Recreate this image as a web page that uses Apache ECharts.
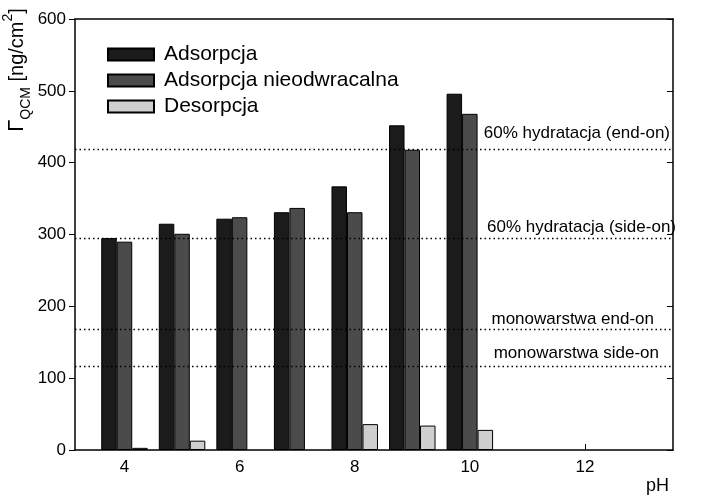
<!DOCTYPE html>
<html>
<head>
<meta charset="utf-8">
<script src="https://cdn.jsdelivr.net/npm/echarts@6/dist/echarts.min.js"></script>
<style>
  html, body { margin: 0; padding: 0; background: #fff; }
  #main { width: 708px; height: 501px; }
</style>
</head>
<body>
<div id="main"></div>
<script>
// pH of each measurement
const phValues = [4, 5, 6, 7, 8, 9, 10];
// Gamma QCM [ng/cm2]
const adsorpcja = [295, 315, 322, 331, 367, 452, 496];
const nieodwracalna = [290, 301, 324, 337, 331, 418, 468];
const desorpcja = [3, 13, null, null, 36, 34, 28];
// reference levels (dotted lines)
const refLevels = [419, 295, 168, 117];
const refLabels = ['60% hydratacja (end-on)', '60% hydratacja (side-on)', 'monowarstwa end-on', 'monowarstwa side-on'];
const xTickValues = [4, 6, 8, 10, 12];
const seriesNames = ['Adsorpcja', 'Adsorpcja nieodwracalna', 'Desorpcja'];

var chartDom = document.getElementById('main');
var myChart = echarts.init(chartDom);
var font = "'Liberation Sans', Arial, sans-serif";

function pairs(vals) {
    return phValues.map((p, i) => [p, vals[i] == null ? '-' : vals[i]]);
}

// label offsets [horizontal, vertical] for each dotted line
const labelDist = [[3, 7], [-3, 2], [19, 2], [14, 4]];

var option = {
    animation: false,
    textStyle: { fontFamily: font },
    grid: { left: 75, right: 35, top: 19, bottom: 51, show: false },
    legend: {
        data: seriesNames,
        orient: 'vertical',
        left: 102,
        top: 39,
        itemWidth: 46,
        itemHeight: 12,
        itemGap: 5,
        icon: 'rect',
        textStyle: { fontSize: 21, color: '#000', fontFamily: font, padding: [0, 0, 0, 5] }
    },
    graphic: [{
        type: 'text',
        x: 17,
        y: 70,
        rotation: Math.PI / 2,
        style: {
            text: '{g|\u0393}{s|QCM}{n| [ng/cm}{p|2}{n|]}',
            align: 'center',
            verticalAlign: 'middle',
            fill: '#000',
            font: '20px ' + font,
            rich: {
                g: { fontSize: 22, fontFamily: font, lineHeight: 32, verticalAlign: 'middle' },
                s: { fontSize: 14, fontFamily: font, lineHeight: 32, verticalAlign: 'bottom' },
                n: { fontSize: 20, fontFamily: font, lineHeight: 32, verticalAlign: 'middle' },
                p: { fontSize: 14, fontFamily: font, lineHeight: 32, verticalAlign: 'top' }
            }
        }
    }],
    xAxis: [{
        type: 'value',
        min: 3.14,
        max: 13.53,
        name: 'pH',
        nameLocation: 'end',
        nameGap: -4,
        nameTextStyle: { fontSize: 18, color: '#000', align: 'right', verticalAlign: 'top', padding: [27, 0, 0, 0] },
        axisLine: { lineStyle: { color: '#000', width: 1.5 } },
        axisTick: { inside: true, length: 6, customValues: xTickValues, lineStyle: { color: '#000' } },
        axisLabel: { customValues: xTickValues, fontSize: 17, color: '#000', margin: 9 },
        splitLine: { show: false }
    }, {
        type: 'value',
        position: 'top',
        min: 3.14,
        max: 13.53,
        axisLine: { show: true, onZero: false, lineStyle: { color: '#000', width: 1.5 } },
        axisTick: { show: false },
        axisLabel: { show: false },
        splitLine: { show: false }
    }],
    yAxis: [{
        type: 'value',
        min: 0,
        max: 600,
        interval: 100,
        axisLine: { show: true, lineStyle: { color: '#000', width: 1.5 } },
        axisTick: { show: true, length: 6, lineStyle: { color: '#000' } },
        axisLabel: { fontSize: 17, color: '#000', margin: 9 },
        splitLine: { show: false }
    }, {
        type: 'value',
        position: 'right',
        min: 0,
        max: 600,
        interval: 100,
        axisLine: { show: true, onZero: false, lineStyle: { color: '#000', width: 1.5 } },
        axisTick: { show: true, inside: true, length: 6, lineStyle: { color: '#000' } },
        axisLabel: { show: false },
        splitLine: { show: false }
    }],
    series: [
        {
            name: seriesNames[0],
            type: 'bar',
            data: pairs(adsorpcja),
            barWidth: 15.5,
            barGap: '0%',
            itemStyle: { color: '#1b1b1b', borderColor: '#000', borderWidth: 1 },
            markLine: {
                silent: true,
                symbol: 'none',
                lineStyle: { type: [1.5, 3], color: '#000', width: 1.3 },
                label: { fontSize: 17, color: '#000', position: 'insideEndTop' },
                data: refLevels.map((v, i) => ({
                    yAxis: v,
                    label: { formatter: refLabels[i], distance: labelDist[i] }
                }))
            }
        },
        {
            name: seriesNames[1],
            type: 'bar',
            data: pairs(nieodwracalna),
            barWidth: 15.5,
            barGap: '0%',
            itemStyle: { color: '#4b4b4b', borderColor: '#000', borderWidth: 1 }
        },
        {
            name: seriesNames[2],
            type: 'bar',
            data: pairs(desorpcja),
            barWidth: 15.5,
            barGap: '0%',
            itemStyle: { color: '#cfcfcf', borderColor: '#000', borderWidth: 1 }
        }
    ]
};
myChart.setOption(option);
</script>
</body>
</html>
